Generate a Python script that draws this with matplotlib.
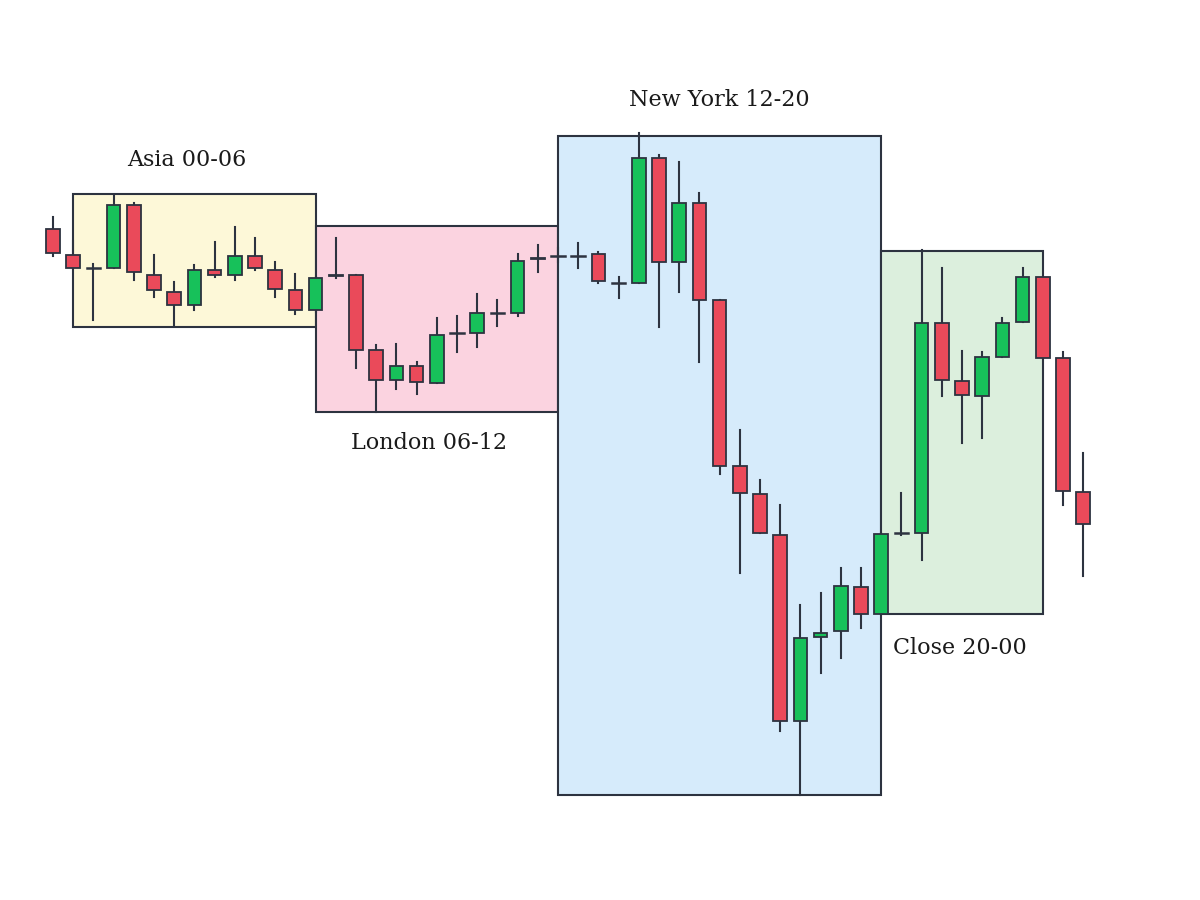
import matplotlib.pyplot as plt
from matplotlib.patches import Rectangle

# candle data (price units)
opens = [671, 645, 632, 632, 695, 625, 608, 595, 630, 625, 644, 630, 610, 590, 625, 625, 550, 520, 534, 517,
         567, 567, 587, 587, 641, 644, 644, 646, 617, 617, 742, 638, 697, 600, 434, 406, 365, 179, 263, 269,
         313, 286, 367, 367, 577, 519, 504, 543, 578, 623, 542, 408]
closes = [647, 632, 632, 695, 628, 610, 595, 630, 625, 644, 632, 611, 590, 622, 624, 550, 520, 534, 518, 565,
          567, 587, 587, 639, 642, 644, 644, 619, 617, 742, 638, 697, 600, 434, 407, 367, 179, 262, 267, 314,
          286, 366, 367, 577, 520, 505, 543, 577, 623, 542, 409, 376]
highs = [683, 659, 636, 704, 697, 645, 618, 635, 658, 673, 662, 638, 626, 623, 662, 625, 555, 556, 538, 582,
         584, 606, 600, 646, 655, 652, 657, 648, 623, 767, 745, 738, 707, 600, 470, 420, 395, 295, 307, 332,
         332, 367, 407, 650, 632, 549, 548, 582, 632, 623, 548, 447]
lows = [644, 632, 580, 632, 620, 603, 574, 590, 623, 620, 630, 603, 586, 588, 622, 532, 488, 511, 506, 517,
        548, 553, 574, 584, 628, 638, 632, 617, 602, 617, 573, 608, 538, 426, 327, 367, 169, 105, 227, 242,
        272, 286, 365, 340, 504, 457, 462, 543, 578, 542, 395, 324]

sessions = ["Asia 00-06", "London 06-12", "New York 12-20", "Close 20-00"]
session_span = [(1, 13), (13, 25), (25, 41), (41, 49)]
session_range = [(573, 706), (488, 674), (105, 764), (286, 649)]
session_colors = ["#fdf8d8", "#fbd3e0", "#d6ebfb", "#dcefdd"]
label_pos = [(6.6, 740), (18.6, 457), (33.0, 800), (44.9, 252)]

UP = "#17c15a"
DOWN = "#ea4a5a"
EDGE = "#2d3340"

fig = plt.figure(figsize=(12, 9), dpi=100)
ax = fig.add_axes([0, 0, 1, 1])
ax.set_xlim(-53 / 20.2, (1200 - 53) / 20.2)
ax.set_ylim(0, 900)
ax.axis("off")

for name, (a, b), (lo, hi), c, (lx, ly) in zip(sessions, session_span, session_range, session_colors, label_pos):
    ax.add_patch(Rectangle((a, lo), b - a, hi - lo, facecolor=c, edgecolor=EDGE, lw=1.5, zorder=1))
    ax.text(lx, ly, name, ha="center", va="center", fontsize=16, family="DejaVu Serif", color="#1a1a1a")

w = 0.68
for i, (o, c, h, l) in enumerate(zip(opens, closes, highs, lows)):
    ax.plot([i, i], [l, h], color=EDGE, lw=1.5, zorder=2)
    if o == c:
        ax.plot([i - w / 2, i + w / 2], [o, o], color=EDGE, lw=1.8, zorder=3)
        continue
    col = UP if c > o else DOWN
    ax.add_patch(Rectangle((i - w / 2, min(o, c)), w, abs(c - o), facecolor=col,
                           edgecolor=EDGE, lw=1.3, zorder=3))

fig.savefig("out.png", dpi=100)
